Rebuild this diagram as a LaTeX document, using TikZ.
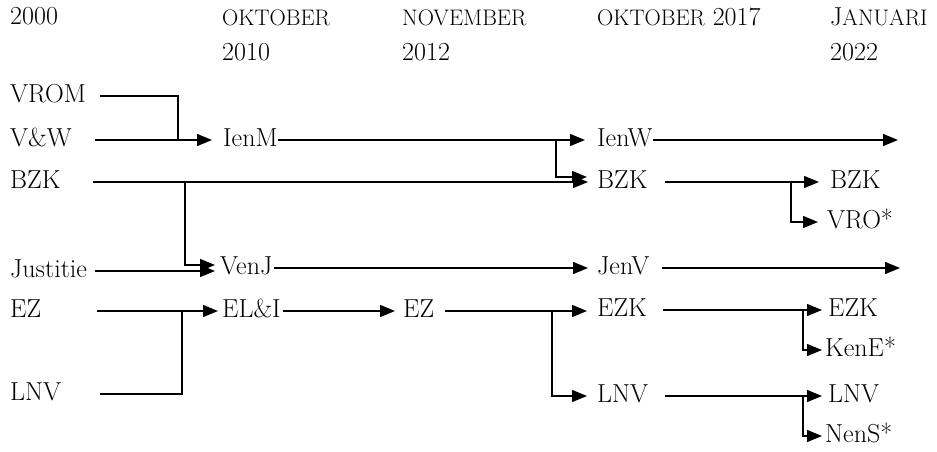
\documentclass[tikz,border=0pt]{standalone}
\usetikzlibrary{arrows.meta}
\newcommand\bodyfs{\fontsize{26}{30}\selectfont}
\newcommand\smcp[1]{{\fontsize{22.5}{25}\selectfont #1}}
\tikzset{
  lab/.style={inner sep=0pt, anchor=west, text height=17pt, text depth=5pt, font=\bodyfs},
  hdr/.style={inner sep=0pt, anchor=base west, font=\bodyfs},
  ln/.style={line width=1.4pt},
  arr/.style={ln, -{Triangle[length=15pt,width=12pt]}},
}
\begin{document}
\begin{tikzpicture}[x=1pt,y=-1pt]
\useasboundingbox (0,0) rectangle (937,452);
% headers
\node[hdr] (h0) at (10,25) {2000};
\node[hdr] (h1) at (222,26) {\smcp{OKTOBER}};
\node[hdr] (h1b) at (222,60) {2010};
\node[hdr] (h2) at (402,26) {\smcp{NOVEMBER}};
\node[hdr] (h2b) at (402,60) {2012};
\node[hdr] (h3) at (597,26) {\smcp{OKTOBER} 2017};
\node[hdr] (h4) at (830,26) {J\smcp{ANUARI}};
\node[hdr] (h4b) at (830,60) {2022};
% column 1
\node[lab] (vrom) at (10,96) {VROM};
\node[lab] (vw) at (10,140) {V\&W};
\node[lab] (bzk) at (10,182) {BZK};
\node[lab] (just) at (10,271) {Justitie};
\node[lab] (ez) at (10,311) {EZ};
\node[lab] (lnv) at (10,394) {LNV};
% column 2
\node[lab] (ienm) at (223,140) {IenM};
\node[lab] (venj) at (220,268) {VenJ};
\node[lab] (eli) at (222,311) {EL\&I};
% column 3
\node[lab] (ez2) at (403,311) {EZ};
% column 4
\node[lab] (ienw) at (597,140) {IenW};
\node[lab] (bzk2) at (597,182) {BZK};
\node[lab] (jenv) at (597,268) {JenV};
\node[lab] (ezk) at (597,310) {EZK};
\node[lab] (lnv2) at (597,396) {LNV};
% column 5
\node[lab] (bzk3) at (830,182) {BZK};
\node[lab] (vro) at (827,222) {VRO*};
\node[lab] (ezk3) at (828,310) {EZK};
\node[lab] (kene) at (825,350) {KenE*};
\node[lab] (lnv3) at (828,396) {LNV};
\node[lab] (nens) at (825,436) {NenS*};
% line starts, free ends and junctions
\coordinate (sVROM) at (100,96);
\coordinate (sVW) at (95,140);
\coordinate (sBZK) at (93,182);
\coordinate (sJust) at (95,271);
\coordinate (sEZ) at (97,311);
\coordinate (sLNV) at (100,394);
\coordinate (sEZ2) at (445,311);
\coordinate (sJenV) at (662,268);
\coordinate (sBZK2) at (665,182);
\coordinate (sEZK) at (663,310);
\coordinate (sLNV2) at (665,396);
\coordinate (ienwend) at (898,140);
\coordinate (jenvend) at (900,268);
\coordinate (jA) at (178,96);
\coordinate (jB) at (185,182);
\coordinate (jC) at (182,311);
\coordinate (jD) at (556,140);
\coordinate (jE) at (552,310);
\coordinate (jF) at (791,182);
\coordinate (jG) at (803,310);
\coordinate (jH) at (803,396);
% connectors
\draw[ln] (sVROM) -- (jA) -- (jA|-vw.east);
\draw[arr, shorten >=11pt] (sVW) -- (ienm.west);
\draw[arr, shorten >=12pt] (ienm.east) -- (ienw.west);
\draw[arr, shorten >=10pt] (jD) |- ([yshift=5pt]bzk2.west);
\draw[arr] (ienw.east) -- (ienwend);
\draw[arr, shorten >=9pt] (sBZK) -- (bzk2.west);
\draw[arr, shorten >=5pt] (jB) |- ([yshift=3pt]venj.west);
\draw[arr, shorten >=5pt] (sJust) -- (venj.west|-sJust);
\draw[arr, shorten >=9pt] ([xshift=2pt]venj.east) -- (jenv.west);
\draw[arr] (sJenV) -- (jenvend);
\draw[arr, shorten >=11pt] (sBZK2) -- (bzk3.west);
\draw[arr, shorten >=9pt] (jF) |- (vro.west);
\draw[arr, shorten >=4pt] (sEZ) -- (eli.west);
\draw[ln] (sLNV) -- (jC|-sLNV) -- (jC);
\draw[arr, shorten >=8pt] ([xshift=2pt]eli.east) -- (ez2.west);
\draw[arr, shorten >=10pt] (sEZ2) -- (ezk.west|-sEZ2);
\draw[arr, shorten >=10pt] (jE) |- (lnv2.west);
\draw[arr, shorten >=6pt] (sEZK) -- (ezk3.west);
\draw[arr, shorten >=3pt] (jG) |- (kene.west);
\draw[arr, shorten >=6pt] (sLNV2) -- (lnv3.west);
\draw[arr, shorten >=3pt] (jH) |- (nens.west);
\end{tikzpicture}
\end{document}
